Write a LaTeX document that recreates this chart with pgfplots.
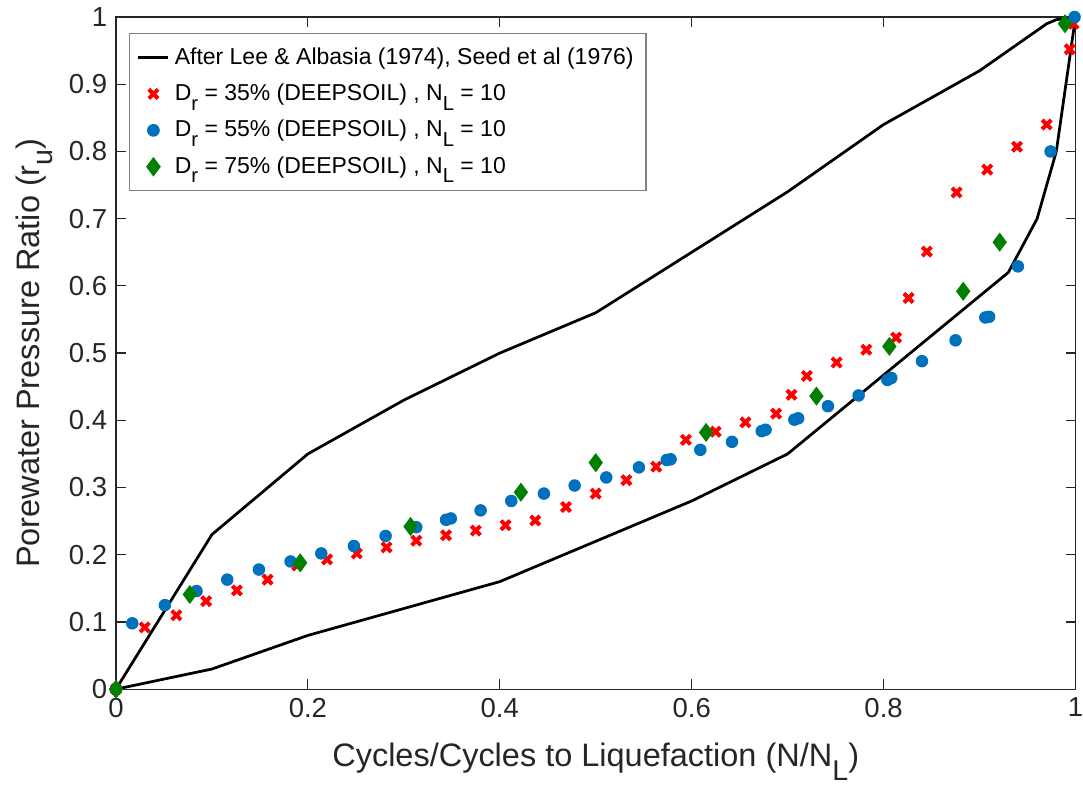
\documentclass[border=0pt]{standalone}
\usepackage{fontspec}
\setmainfont{Liberation Sans}
\usepackage{pgfplots}
\pgfplotsset{compat=1.18}

\definecolor{mblue}{rgb}{0,0.447,0.741}
\definecolor{mgreen}{rgb}{0,0.5,0}
\definecolor{axgray}{rgb}{0.15,0.15,0.15}

% MATLAB-like subscript: nearly full size, set low
\newcommand{\sub}[1]{\raisebox{-0.42em}{\scalebox{0.88}{#1}}}

\pgfplotsset{
    lineleg/.style={legend image code/.code={\draw[##1] (0pt,0pt) -- (12pt,0pt);}},
    markleg/.style={legend image code/.code={\draw[##1] plot coordinates {(6pt,0pt)};}},
}

\begin{document}
\begin{tikzpicture}
\begin{axis}[
    scale only axis,
    width=384pt, height=269pt,
    xmin=0, xmax=1, ymin=0, ymax=1,
    xtick={0,0.2,...,1}, ytick={0,0.1,...,1},
    tick align=inside,
    axis line style={axgray, line width=0.5pt},
    tick style={axgray, line width=0.5pt},
    major tick length=4pt,
    /pgf/number format/assume math mode=true,
    tick label style={font=\fontsize{11}{12}\selectfont, text=axgray},
    xlabel={Cycles/Cycles to Liquefaction (N/N\sub{L})},
    ylabel={Porewater Pressure Ratio (r\sub{u})},
    label style={font=\fontsize{13}{14}\selectfont, text=axgray},
    xlabel style={yshift=-3.5pt},
    ylabel style={yshift=-0.5pt},
    legend cell align=left,
    legend style={at={(0,1)}, anchor=north west, xshift=5.2pt, yshift=-6.4pt,
        font=\fontsize{9.2}{11}\selectfont, draw=gray, line width=0.5pt,
        row sep=2.4pt, inner xsep=3pt, inner ysep=3.5pt},
    clip=false,
]
\coordinate (sw) at (rel axis cs:0,0);
\coordinate (ne) at (rel axis cs:1,1);
% envelope: upper bound then lower bound back to origin
\addplot[black, line width=1.1pt, mark=none, lineleg] coordinates {
    (0,0) (0.1,0.23) (0.2,0.35) (0.3,0.43) (0.4,0.5) (0.5,0.56) (0.6,0.65)
    (0.7,0.74) (0.8,0.84) (0.9,0.92) (0.93,0.95) (0.957,0.977) (0.97,0.99)
    (0.98,0.996) (1,1)
    (0.98,0.8) (0.96,0.7) (0.93,0.62) (0.7,0.35) (0.6,0.28) (0.5,0.22)
    (0.4,0.16) (0.3,0.12) (0.2,0.08) (0.1,0.03) (0,0)
};
\addlegendentry{After Lee \& Albasia (1974), Seed et al (1976)}

% Dr = 35%
\addplot[only marks, red, mark=x, mark size=2.6pt, line width=1.6pt, markleg] coordinates {
    (0,0) (0.030,0.092) (0.063,0.110) (0.094,0.131) (0.126,0.147) (0.158,0.163)
    (0.189,0.184) (0.220,0.193) (0.251,0.202) (0.282,0.211) (0.313,0.221)
    (0.344,0.229) (0.375,0.236) (0.406,0.244) (0.437,0.251) (0.469,0.271)
    (0.500,0.291) (0.532,0.311) (0.563,0.331) (0.594,0.371) (0.625,0.383)
    (0.656,0.397) (0.688,0.410) (0.704,0.438) (0.720,0.466) (0.751,0.486)
    (0.782,0.505) (0.813,0.523) (0.826,0.582) (0.845,0.651) (0.876,0.739)
    (0.908,0.773) (0.939,0.807) (0.970,0.840) (0.994,0.952) (0.998,0.990)
};
\addlegendentry{D\sub{r} = 35\% (DEEPSOIL) , N\sub{L} = 10}

% Dr = 55%
\addplot[only marks, mblue, mark=*, mark size=2.3pt, mark options={draw=mblue, fill=mblue}, markleg] coordinates {
    (0,0) (0.017,0.098) (0.051,0.125) (0.084,0.146) (0.116,0.163) (0.149,0.178)
    (0.182,0.190) (0.214,0.202) (0.248,0.213) (0.281,0.228) (0.313,0.241)
    (0.344,0.252) (0.349,0.254) (0.380,0.266) (0.412,0.280) (0.446,0.291)
    (0.478,0.303) (0.511,0.315) (0.545,0.330) (0.574,0.341) (0.578,0.342)
    (0.609,0.356) (0.642,0.368) (0.673,0.384) (0.677,0.386) (0.707,0.401)
    (0.711,0.403) (0.742,0.421) (0.774,0.437) (0.804,0.460) (0.808,0.463)
    (0.840,0.488) (0.875,0.519) (0.906,0.553) (0.910,0.554) (0.940,0.629)
    (0.974,0.800) (0.999,1.0)
};
\addlegendentry{D\sub{r} = 55\% (DEEPSOIL) , N\sub{L} = 10}

% Dr = 75%
\addplot[only marks, mgreen, mark=diamond*, mark size=3.5pt, mark options={draw=mgreen, fill=mgreen}, markleg] coordinates {
    (0,0) (0.077,0.141) (0.192,0.188) (0.307,0.242) (0.422,0.293) (0.500,0.337)
    (0.615,0.382) (0.730,0.436) (0.806,0.510) (0.883,0.592) (0.921,0.665)
    (0.989,0.990)
};
\addlegendentry{D\sub{r} = 75\% (DEEPSOIL) , N\sub{L} = 10}
\end{axis}
% crop the page like the reference: tight on the right edge
\pgfresetboundingbox
\path (sw) ++(-46.4pt,-38pt) coordinate (bbsw);
\path (ne) ++(3pt,6.8pt) coordinate (bbne);
\useasboundingbox (bbsw) rectangle (bbne);
\end{tikzpicture}
\end{document}
